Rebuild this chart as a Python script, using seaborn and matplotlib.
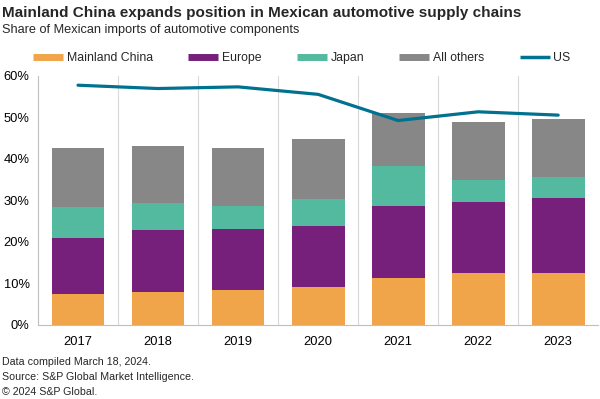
import pandas as pd
import matplotlib.pyplot as plt
import seaborn as sns
import numpy as np
from matplotlib.lines import Line2D

# Dados (% das importações mexicanas de autopeças)
anos = ['2017', '2018', '2019', '2020', '2021', '2022', '2023']
china = [7.5, 8.0, 8.3, 9.2, 11.2, 12.4, 12.4]
europa = [13.4, 14.8, 14.8, 14.7, 17.5, 17.3, 18.2]
japao = [7.5, 6.6, 5.5, 6.4, 9.5, 5.2, 5.0]
outros = [14.1, 13.7, 14.1, 14.4, 12.8, 13.9, 13.9]
eua = [57.7, 56.9, 57.3, 55.5, 49.2, 51.3, 50.5]

series = [('Mainland China', china, '#F0A54A'),
          ('Europe', europa, '#76207B'),
          ('Japan', japao, '#54BA9F'),
          ('All others', outros, '#878787')]
cor_eua = '#00728F'

sns.set_style('white')
plt.rcParams['font.family'] = ['Liberation Sans', 'DejaVu Sans']

fig = plt.figure(figsize=(6, 3.99), dpi=100)
ax = fig.add_axes([0.0633, 0.1855, 0.9337, 0.6249])

base = np.zeros(len(anos))
for nome, vals, cor in series:
    df = pd.DataFrame({'ano': anos, 'v': vals})
    sns.barplot(data=df, x='ano', y='v', color=cor, width=0.66, bottom=base,
                saturation=1, linewidth=0, ax=ax, zorder=2)
    base = base + np.array(vals)

df_eua = pd.DataFrame({'ano': anos, 'v': eua})
sns.lineplot(data=df_eua, x='ano', y='v', color=cor_eua, linewidth=2.3, ax=ax, zorder=3)

ax.set_xlim(-0.5, 6.5)
ax.set_ylim(0, 60)
ax.set_yticks(range(0, 61, 10))
ax.set_yticklabels([f'{t}%' for t in range(0, 61, 10)])
for x in np.arange(0.5, 6, 1):
    ax.axvline(x, color='#D9D9D9', linewidth=0.8, zorder=0)
ax.set_xlabel('')
ax.set_ylabel('')
ax.tick_params(axis='both', length=0, labelsize=9.3, colors='black')
ax.tick_params(axis='x', pad=8)
ax.tick_params(axis='y', pad=6)
for lado in ['top', 'right']:
    ax.spines[lado].set_visible(False)
ax.spines['left'].set_color('#BFBFBF')
ax.spines['bottom'].set_color('#BFBFBF')

fig.text(0.004, 0.968, 'Mainland China expands position in Mexican automotive supply chains',
         fontsize=11, fontweight='bold', va='center', ha='left')
fig.text(0.004, 0.925, 'Share of Mexican imports of automotive components',
         fontsize=9.2, va='center', ha='left')

handles = [Line2D([], [], color=c, linewidth=5, solid_capstyle='butt') for _, _, c in series]
handles.append(Line2D([], [], color=cor_eua, linewidth=2.5, solid_capstyle='butt'))
labels = [s[0] for s in series] + ['US']
fig.legend(handles, labels, loc='center', bbox_to_anchor=(0.503, 0.855), ncol=5,
           frameon=False, fontsize=8.8, handlelength=2.45, handletextpad=0.3,
           columnspacing=2.9)

rodape = ['Data compiled March 18, 2024.',
          'Source: S&P Global Market Intelligence.',
          '\u00a9 2024 S&P Global.']
for i, linha in enumerate(rodape):
    fig.text(0.004, 0.093 - i * 0.038, linha, fontsize=7.65, va='center', ha='left')

plt.savefig('out.png', dpi=100)
plt.close()
